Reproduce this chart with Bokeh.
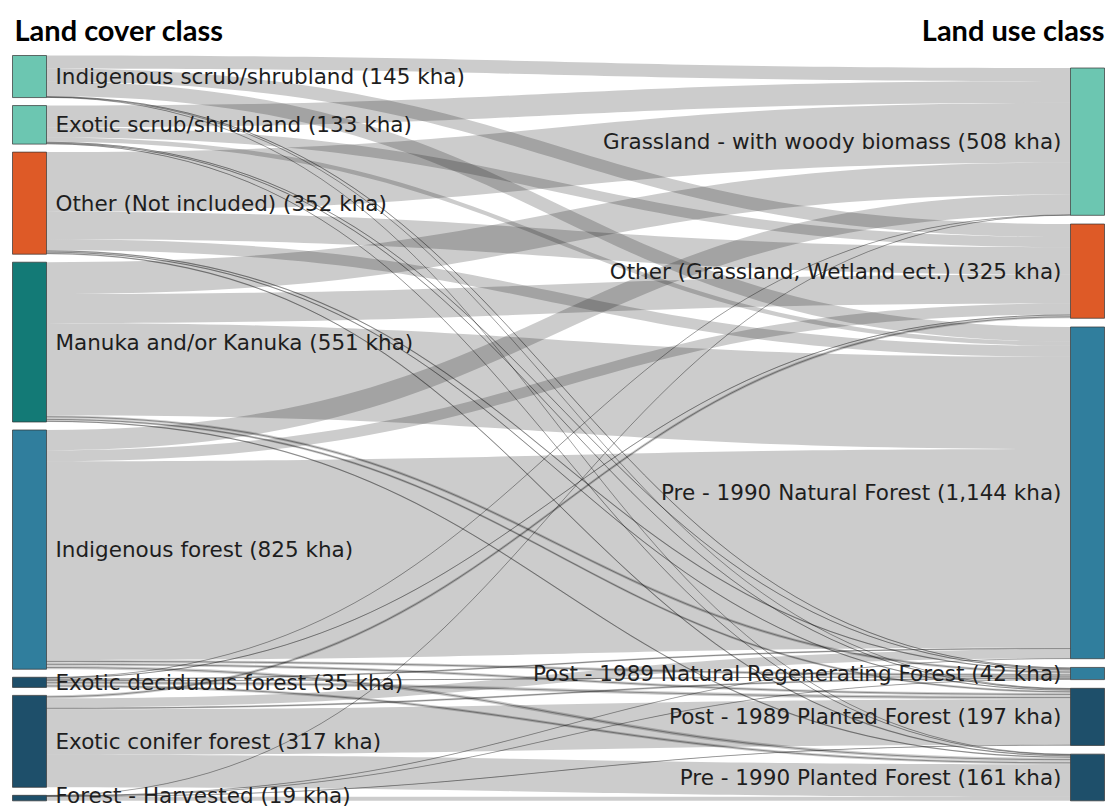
import numpy as np
from bokeh.plotting import figure
from bokeh.models import Range1d
from bokeh.embed import file_html
from bokeh.resources import INLINE
from bokeh.core.properties import value

# ---------------- data ----------------
source_names = ["Indigenous scrub/shrubland", "Exotic scrub/shrubland", "Other (Not included)",
                "Manuka and/or Kanuka", "Indigenous forest", "Exotic deciduous forest",
                "Exotic conifer forest", "Forest - Harvested"]
source_totals = [145, 133, 352, 551, 825, 35, 317, 19]

target_names = ["Grassland - with woody biomass", "Other (Grassland, Wetland ect.)",
                "Pre - 1990 Natural Forest", "Post - 1989 Natural Regenerating Forest",
                "Post - 1989 Planted Forest", "Pre - 1990 Planted Forest"]
target_totals = [508, 325, 1144, 42, 197, 161]

# flows (kha) from each land cover class to: GW, Other, Pre-1990 NF, Post-1989 NRF, Post-1989 PF, Pre-1990 PF
flow_indigenous_scrub = [45, 45, 50, 3, 1, 1]
flow_exotic_scrub = [75, 35, 15, 3, 3, 2]
flow_other_not_included = [206, 94, 38, 5, 4, 5]
flow_manuka_kanuka = [110, 100, 318, 10, 8, 5]
flow_indigenous_forest = [70, 38, 685, 10, 10, 12]
flow_exotic_deciduous = [1, 3, 6, 3, 12, 10]
flow_exotic_conifer = [0, 10, 31, 7, 157, 112]
flow_forest_harvested = [1, 0, 1, 1, 2, 14]

source_colors = ["#6cc6b1", "#6cc6b1", "#de5a27", "#137a76", "#307e9d", "#1e4f6a", "#1e4f6a", "#1e4f6a"]
target_colors = ["#6cc6b1", "#de5a27", "#307e9d", "#307e9d", "#1e4f6a", "#1e4f6a"]

left_title = "Land cover class"
right_title = "Land use class"

flows = np.array([flow_indigenous_scrub, flow_exotic_scrub, flow_other_not_included,
                  flow_manuka_kanuka, flow_indigenous_forest, flow_exotic_deciduous,
                  flow_exotic_conifer, flow_forest_harvested], dtype=float)

# ---------------- layout ----------------
K = 0.29            # px per kha
NODE_W = 34
LX0 = 12
RX0 = 1070
L_TOP, L_PAD = 55.0, 8.0
R_TOP, R_PAD = 67.5, 8.7

def stack(totals, top, pad):
    tops, y = [], top
    for t in totals:
        tops.append(y)
        y += t * K + pad
    return tops

l_tops = stack(source_totals, L_TOP, L_PAD)
r_tops = stack(target_totals, R_TOP, R_PAD)

p = figure(width=1110, height=809, x_range=Range1d(0, 1110), y_range=Range1d(809, 0),
           toolbar_location=None, output_backend="svg", min_border=0)
p.axis.visible = False
p.grid.visible = False
p.outline_line_color = None
p.background_fill_color = "white"

# ---------------- links ----------------
n_s, n_t = flows.shape
src_cursor = list(l_tops)
tgt_pos = {}
cur = list(r_tops)
for j in range(n_t):
    for i in range(n_s):
        tgt_pos[(i, j)] = cur[j]
        cur[j] += flows[i, j] * K

u = np.linspace(0, 1, 60)
x0, x1 = LX0 + NODE_W, RX0
xm = (x0 + x1) / 2
bx = (1 - u) ** 3 * x0 + 3 * (1 - u) ** 2 * u * xm + 3 * (1 - u) * u ** 2 * xm + u ** 3 * x1
by0 = (1 - u) ** 3 + 3 * (1 - u) ** 2 * u
by1 = 3 * (1 - u) * u ** 2 + u ** 3

xs, ys, lx, ly = [], [], [], []
for i in range(n_s):
    for j in range(n_t):
        v = flows[i, j]
        if v <= 0:
            continue
        s_top = src_cursor[i]
        src_cursor[i] += v * K
        t_top = tgt_pos[(i, j)]
        h = v * K
        top = by0 * s_top + by1 * t_top
        bot = by0 * (s_top + h) + by1 * (t_top + h)
        xs.append(list(bx) + list(bx[::-1]))
        ys.append(list(top) + list(bot[::-1]))
        if h < 3.5:
            lx.append(list(bx))
            ly.append(list((top + bot) / 2))

p.patches(xs, ys, fill_color="black", fill_alpha=0.2, line_color=None)
p.multi_line(lx, ly, line_color="black", line_alpha=0.33, line_width=1)

# ---------------- nodes ----------------
p.quad(left=[LX0] * n_s, right=[LX0 + NODE_W] * n_s, top=l_tops,
       bottom=[l_tops[i] + source_totals[i] * K for i in range(n_s)],
       fill_color=source_colors, line_color="#333333", line_alpha=0.7, line_width=1)
p.quad(left=[RX0] * n_t, right=[RX0 + NODE_W] * n_t, top=r_tops,
       bottom=[r_tops[j] + target_totals[j] * K for j in range(n_t)],
       fill_color=target_colors, line_color="#333333", line_alpha=0.7, line_width=1)

# ---------------- labels ----------------
l_labels = [f"{n} ({t:,} kha)" for n, t in zip(source_names, source_totals)]
r_labels = [f"{n} ({t:,} kha)" for n, t in zip(target_names, target_totals)]
l_y = [min(l_tops[i] + source_totals[i] * K / 2, 795) for i in range(n_s)]
r_y = [min(r_tops[j] + target_totals[j] * K / 2, 795) for j in range(n_t)]

p.text(x=[LX0 + NODE_W + 9] * n_s, y=l_y, text=l_labels, text_font=value("DejaVu Sans"),
       text_font_size="21.5px", text_baseline="middle", text_align="left", text_color="#1e1e1e")
p.text(x=[RX0 - 9] * n_t, y=r_y, text=r_labels, text_font=value("DejaVu Sans"),
       text_font_size="21.5px", text_baseline="middle", text_align="right", text_color="#1e1e1e")

p.text(x=[14], y=[29], text=[left_title], text_font=value("Lato"), text_font_size="29px",
       text_font_style="bold", text_baseline="middle", text_align="left", text_color="black")
p.text(x=[1104], y=[29], text=[right_title], text_font=value("Lato"), text_font_size="29px",
       text_font_style="bold", text_baseline="middle", text_align="right", text_color="black")

open("out.html", "w").write(file_html(p, INLINE))
